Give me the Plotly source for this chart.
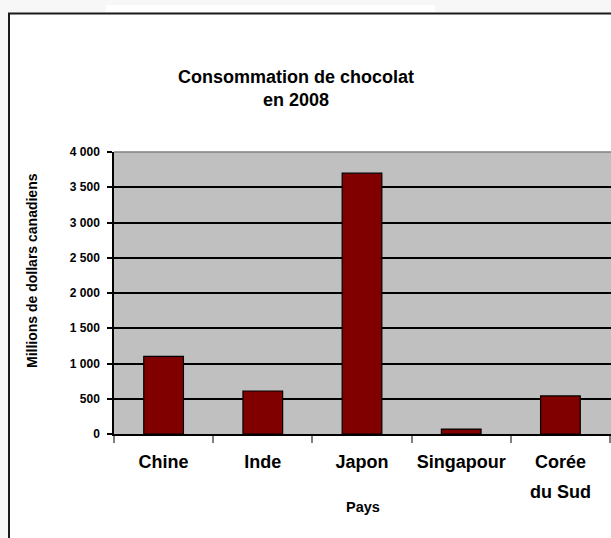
import plotly.graph_objects as go

# Data
pays = ["Chine", "Inde", "Japon", "Singapour", "Corée du Sud"]
etiquettes_pays = ["Chine", "Inde", "Japon", "Singapour", "Corée"]
consommation = [1100, 610, 3700, 70, 540]
y_ticks = [0, 500, 1000, 1500, 2000, 2500, 3000, 3500, 4000]
y_tick_labels = ["0", "500", "1 000", "1 500", "2 000", "2 500", "3 000", "3 500", "4 000"]

W, H = 611, 538
ML, MR, MT, MB = 114, 0, 152, 104
PW = W - ML - MR
PH = H - MT - MB

def px_x(px):
    return (px - ML) / PW

def px_y(py):
    return (H - MB - py) / PH

FONT = "Liberation Sans, Arial, sans-serif"

fig = go.Figure()
fig.add_trace(go.Bar(
    x=pays, y=consommation, width=0.4,
    marker=dict(color="#800000", line=dict(color="#000000", width=1.2)),
    hoverinfo="x+y",
))

shapes = [
    # white chart box with dark border
    dict(type="rect", xref="paper", yref="paper", layer="below",
         x0=px_x(9), x1=px_x(640), y0=px_y(560), y1=px_y(13.5),
         fillcolor="#ffffff", line=dict(color="#1a1a1a", width=2)),
    # white strip at top
    dict(type="rect", xref="paper", yref="paper", layer="below",
         x0=px_x(106), x1=px_x(435), y0=px_y(12), y1=px_y(5),
         fillcolor="#ffffff", line=dict(width=0)),
    # plot area
    dict(type="rect", xref="paper", yref="paper", layer="below",
         x0=0, x1=1.01, y0=0, y1=1,
         fillcolor="#c0c0c0", line=dict(width=0)),
    # gray top border of plot area
    dict(type="line", xref="paper", yref="paper", layer="above",
         x0=0, x1=1.01, y0=1, y1=1,
         line=dict(color="#808080", width=1.5)),
]

annotations = [
    dict(text="<b>Millions de dollars canadiens</b>", xref="paper", yref="paper",
         x=px_x(32), y=px_y(271), textangle=-90, showarrow=False,
         font=dict(family=FONT, size=14, color="#000000"),
         xanchor="center", yanchor="middle"),
    dict(text="<b>Pays</b>", xref="paper", yref="paper",
         x=px_x(363), y=px_y(507), showarrow=False,
         font=dict(family=FONT, size=14.5, color="#000000"),
         xanchor="center", yanchor="middle"),
    dict(text="<b>du Sud</b>", xref="x", yref="paper",
         x=pays[4], y=px_y(492), showarrow=False,
         font=dict(family=FONT, size=18, color="#000000"),
         xanchor="center", yanchor="middle"),
]

fig.update_layout(
    width=W, height=H,
    margin=dict(l=ML, r=MR, t=MT, b=MB, pad=0),
    paper_bgcolor="#f7f7f7",
    plot_bgcolor="rgba(0,0,0,0)",
    showlegend=False,
    title=dict(text="<b>Consommation de chocolat<br>en 2008</b>",
               xref="container", yref="container",
               x=296 / W, y=1 - 82.5 / H, xanchor="center", yanchor="middle",
               font=dict(family=FONT, size=18, color="#000000")),
    shapes=shapes,
    annotations=annotations,
    bargap=0.6,
)

fig.update_xaxes(
    type="category", categoryorder="array", categoryarray=pays,
    tickmode="array", tickvals=pays, ticktext=[f"<b>{t}</b>" for t in etiquettes_pays],
    tickson="boundaries", ticks="outside", ticklen=7, tickcolor="#808080", tickwidth=1.5,
    showline=True, linecolor="#000000", linewidth=1.5,
    showgrid=False, zeroline=False,
    range=[-0.5, 4.51],
    tickfont=dict(family=FONT, size=18, color="#000000"),
    ticklabelstandoff=11,
)

fig.update_yaxes(
    range=[0, 4000],
    tickmode="array", tickvals=y_ticks, ticktext=[f"<b>{t}</b>" for t in y_tick_labels],
    ticks="outside", ticklen=5, tickcolor="#000000", tickwidth=1.5,
    showline=True, linecolor="#000000", linewidth=1.5,
    showgrid=True, gridcolor="#000000", gridwidth=1.5,
    zeroline=False,
    tickfont=dict(family=FONT, size=12, color="#000000"),
    ticklabelstandoff=5,
)

fig.write_html("out.html")
